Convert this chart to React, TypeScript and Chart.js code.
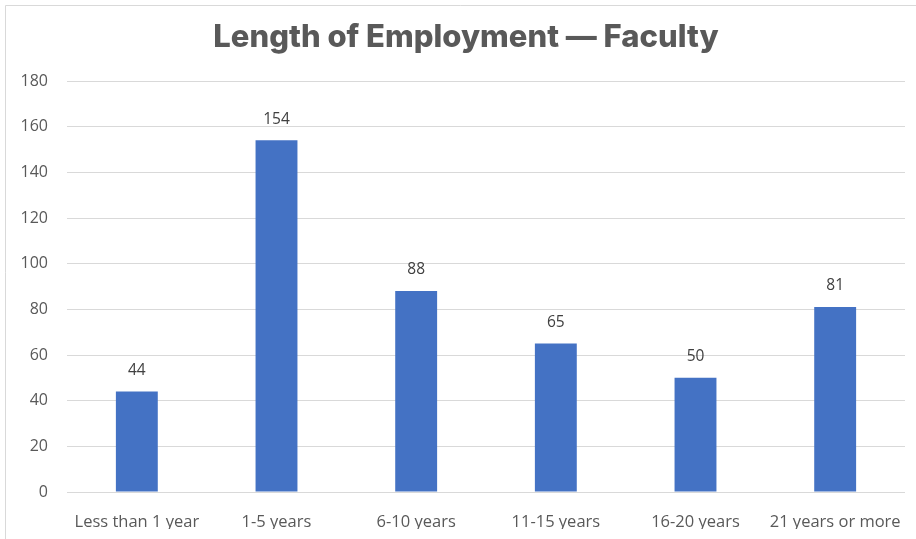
import React, { useEffect, useRef } from "react";
import { Chart, registerables } from "chart.js";

Chart.register(...registerables);

const categories = ["Less than 1 year", "1-5 years", "6-10 years", "11-15 years", "16-20 years", "21 years or more"];
const values = [44, 154, 88, 65, 50, 81];
const titleText = "Length of Employment \u2014 Faculty";
const yMin = 0;
const yMax = 180;
const yStep = 20;

const valueLabels = {
  id: "valueLabels",
  afterDatasetsDraw(chart: any) {
    const ctx = chart.ctx;
    const meta = chart.getDatasetMeta(0);
    ctx.save();
    ctx.font = "15.5px 'Open Sans'";
    ctx.fillStyle = "#404040";
    ctx.textAlign = "center";
    ctx.textBaseline = "middle";
    meta.data.forEach((bar: any, i: number) => {
      ctx.fillText(String(values[i]), bar.x, bar.y - 21);
    });
    ctx.restore();
  },
};

const frame = {
  id: "frame",
  beforeDraw(chart: any) {
    const ctx = chart.ctx;
    ctx.save();
    ctx.fillStyle = "#ffffff";
    ctx.fillRect(0, 0, chart.width, chart.height);
    ctx.strokeStyle = "#d9d9d9";
    ctx.lineWidth = 1;
    ctx.beginPath();
    ctx.moveTo(5.5, chart.height);
    ctx.lineTo(5.5, 5.5);
    ctx.lineTo(chart.width, 5.5);
    ctx.stroke();
    ctx.fillStyle = "#595959";
    ctx.font = "800 31px Inter";
    ctx.textAlign = "center";
    ctx.textBaseline = "middle";
    ctx.fillText(titleText, 466, 38);
    ctx.restore();
  },
};

export default function App() {
  const ref = useRef<HTMLCanvasElement>(null);
  useEffect(() => {
    if (!ref.current) return;
    const chart = new Chart(ref.current, {
      type: "bar",
      data: {
        labels: categories,
        datasets: [
          {
            data: values,
            backgroundColor: "#4472C4",
            categoryPercentage: 1,
            barPercentage: 0.3,
          },
        ],
      },
      options: {
        animation: false,
        responsive: false,
        layout: { padding: { top: 81, right: 11, bottom: 10, left: 0 } },
        plugins: {
          legend: { display: false },
          tooltip: { enabled: false },
          title: { display: false },
        },
        scales: {
          x: {
            grid: { display: false },
            border: { display: false },
            ticks: { color: "#595959", font: { family: "'Open Sans'", size: 16.5 }, padding: 12, maxRotation: 0 },
            afterFit(scale: any) {
              scale.height = 37;
            },
          },
          y: {
            min: yMin,
            max: yMax,
            grid: { color: "#d9d9d9", drawTicks: false },
            border: { display: false },
            ticks: { stepSize: yStep, color: "#595959", font: { family: "'Open Sans'", size: 16 }, padding: 19 },
            afterFit(scale: any) {
              scale.width = 67;
            },
          },
        },
      },
      plugins: [frame, valueLabels],
    });
    return () => chart.destroy();
  }, []);
  return (
    <div style={{ position: "fixed", left: 0, top: 0, width: 916, height: 539, background: "#fff" }}>
      <canvas ref={ref} width={916} height={539} style={{ width: 916, height: 539, display: "block" }} />
    </div>
  );
}
